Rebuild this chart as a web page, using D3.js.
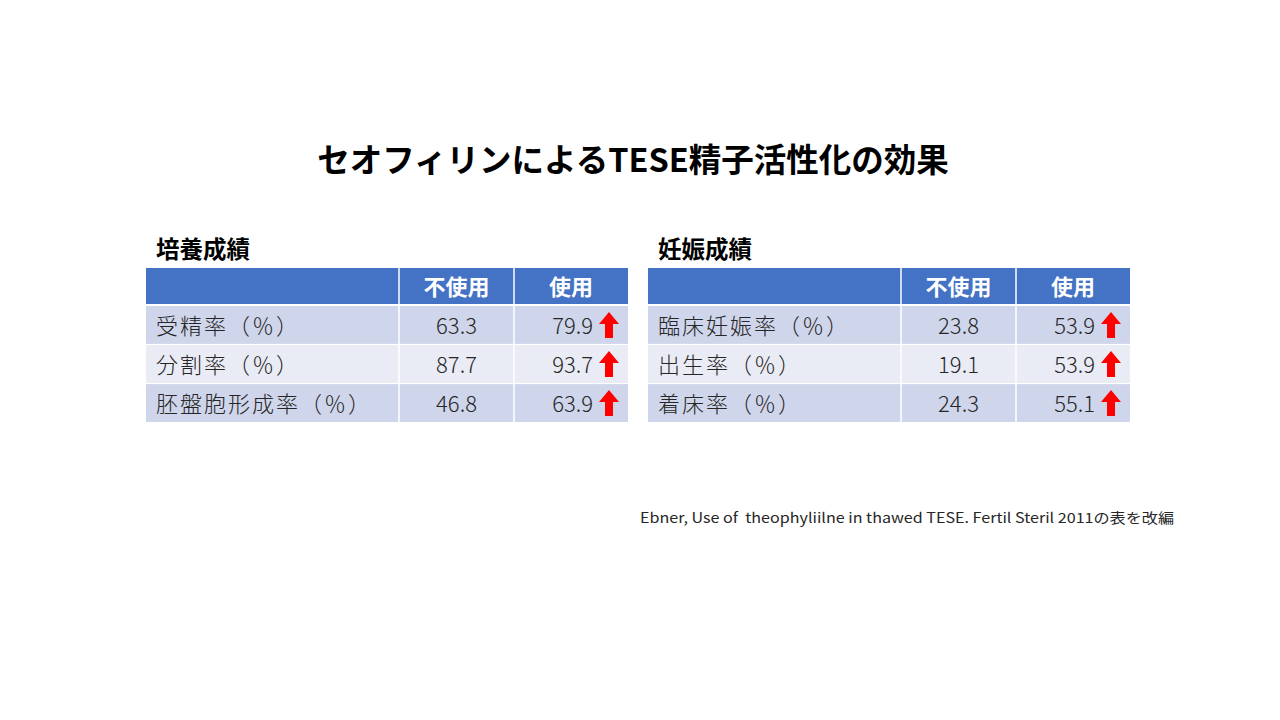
<!DOCTYPE html>
<html>
<head>
<meta charset="utf-8">
<script src="https://cdn.jsdelivr.net/npm/d3@7"></script>
<style>
  html, body { margin: 0; padding: 0; background: #ffffff; }
  svg { display: block; }
  text { font-family: "Noto Sans CJK JP", "Noto Sans", sans-serif; }
  .lbl { letter-spacing: 2px; }
</style>
</head>
<body>
<svg id="chart" width="1280" height="720"></svg>
<script>
// ---- data ----
const title = "セオフィリンによるTESE精子活性化の効果";
const columnLabels = ["不使用", "使用"];

const cultureTitle = "培養成績";
const cultureRows = ["受精率（％）", "分割率（％）", "胚盤胞形成率（％）"];
const cultureWithout = [63.3, 87.7, 46.8];
const cultureWith = [79.9, 93.7, 63.9];

const pregTitle = "妊娠成績";
const pregRows = ["臨床妊娠率（％）", "出生率（％）", "着床率（％）"];
const pregWithout = [23.8, 19.1, 24.3];
const pregWith = [53.9, 53.9, 55.1];

const footnote = "Ebner, Use of  theophyliilne in thawed TESE. Fertil Steril 2011の表を改編";

// ---- drawing ----
const svg = d3.select("#chart");
const colors = { header: "#4472C4", odd: "#CFD5EA", even: "#E9EBF5", text: "#262626", arrow: "#FF0000" };

svg.append("text")
  .attr("x", 633).attr("y", 172)
  .attr("text-anchor", "middle")
  .attr("font-size", 32.5).attr("font-weight", 700)
  .attr("fill", "#000")
  .text(title);

function drawTable(x0, tableTitle, rows, without, withv) {
  const g = svg.append("g");
  const colEdges = [x0, x0 + 253, x0 + 368, x0 + 482];
  const headerTop = 268, headerBottom = 304;
  const y = d3.scaleBand().domain(d3.range(rows.length)).range([306, 422]).paddingInner(0.03).paddingOuter(0);
  const fmt = d3.format(".1f");

  g.append("text")
    .attr("x", x0 + 10).attr("y", 258)
    .attr("font-size", 23.5).attr("font-weight", 700).attr("fill", "#000")
    .text(tableTitle);

  g.append("rect").attr("x", x0).attr("y", headerTop)
    .attr("width", colEdges[3] - x0).attr("height", headerBottom - headerTop)
    .attr("fill", colors.header);

  rows.forEach((label, i) => {
    g.append("rect")
      .attr("x", x0).attr("y", y(i))
      .attr("width", colEdges[3] - x0).attr("height", y.bandwidth())
      .attr("fill", i % 2 === 0 ? colors.odd : colors.even);
  });

  [colEdges[1], colEdges[2]].forEach(cx => {
    g.append("line")
      .attr("x1", cx).attr("x2", cx).attr("y1", headerTop).attr("y2", 422)
      .attr("stroke", "#ffffff").attr("stroke-width", 1.5);
  });

  columnLabels.forEach((lab, j) => {
    g.append("text")
      .attr("x", (colEdges[j + 1] + colEdges[j + 2]) / 2)
      .attr("y", (headerTop + headerBottom) / 2 - 1)
      .attr("text-anchor", "middle").attr("dominant-baseline", "central")
      .attr("font-size", 22).attr("font-weight", 700).attr("fill", "#ffffff")
      .text(lab);
  });

  rows.forEach((label, i) => {
    const cy = y(i) + y.bandwidth() / 2 - 1;
    g.append("text")
      .attr("class", "lbl")
      .attr("x", x0 + 10).attr("y", cy)
      .attr("dominant-baseline", "central")
      .attr("font-size", 22).attr("font-weight", 300).attr("fill", colors.text)
      .text(label);
    g.append("text")
      .attr("x", (colEdges[1] + colEdges[2]) / 2).attr("y", cy)
      .attr("text-anchor", "middle").attr("dominant-baseline", "central")
      .attr("font-size", 22).attr("font-weight", 300).attr("fill", colors.text)
      .text(fmt(without[i]));
    g.append("text")
      .attr("x", colEdges[3] - 35).attr("y", cy)
      .attr("text-anchor", "end").attr("dominant-baseline", "central")
      .attr("font-size", 22).attr("font-weight", 300).attr("fill", colors.text)
      .text(fmt(withv[i]));
    const ax = colEdges[3] - 19, top = y(i) + y.bandwidth() / 2 - 13;
    const p = d3.path();
    p.moveTo(ax, top);
    p.lineTo(ax + 10, top + 12);
    p.lineTo(ax + 4, top + 12);
    p.lineTo(ax + 4, top + 26);
    p.lineTo(ax - 4, top + 26);
    p.lineTo(ax - 4, top + 12);
    p.lineTo(ax - 10, top + 12);
    p.closePath();
    g.append("path").attr("d", p.toString()).attr("fill", colors.arrow);
  });
}

drawTable(146, cultureTitle, cultureRows, cultureWithout, cultureWith);
drawTable(648, pregTitle, pregRows, pregWithout, pregWith);

svg.append("text")
  .attr("x", 640).attr("y", 523)
  .attr("font-size", 14).attr("fill", colors.text)
  .attr("textLength", 534).attr("lengthAdjust", "spacingAndGlyphs")
  .style("white-space", "pre")
  .text(footnote);
</script>
</body>
</html>
